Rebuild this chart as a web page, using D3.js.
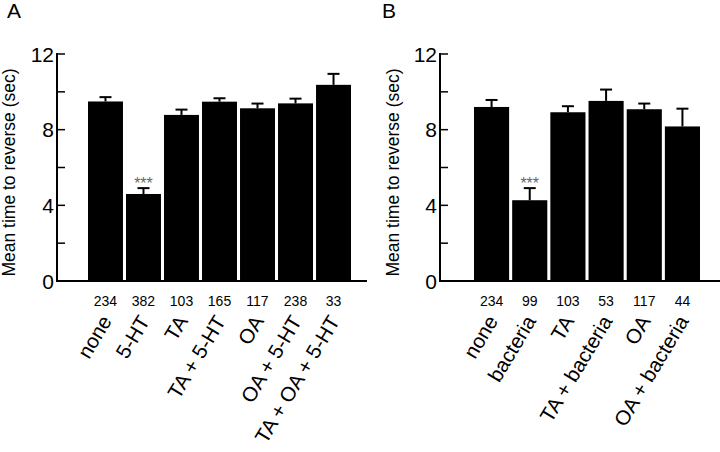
<!DOCTYPE html>
<html><head><meta charset="utf-8">
<script src="https://cdn.jsdelivr.net/npm/d3@7"></script>
<style>body{margin:0;background:#fff}svg{display:block}text{font-family:"Liberation Sans",Arial,sans-serif}</style>
</head><body><svg id="c" width="720" height="452"></svg>
<script>
const catsA = ["none","5-HT","TA","TA + 5-HT","OA","OA + 5-HT","TA + OA + 5-HT"];
const meansA = [9.49, 4.6, 8.78, 9.48, 9.13, 9.39, 10.37];
const semA = [0.23, 0.31, 0.28, 0.18, 0.25, 0.25, 0.58];
const nA = ["234","382","103","165","117","238","33"];
const sigA = ["", "***", "", "", "", "", ""];

const catsB = ["none","bacteria","TA","TA + bacteria","OA","OA + bacteria"];
const meansB = [9.2, 4.27, 8.92, 9.52, 9.08, 8.17];
const semB = [0.37, 0.64, 0.32, 0.6, 0.3, 0.94];
const nB = ["234","99","103","53","117","44"];
const sigB = ["", "***", "", "", "", ""];

const yTicks = [0, 4, 8, 12];
const yMinor = [2, 6, 10];
const yTitle = "Mean time to reverse (sec)";

const svg = d3.select("#c");

function panel(opt){
  const {letter, letterX, axisX, axisEnd, barL, barR, cats, means, sems, ns, sigs, titleX} = opt;
  const g = svg.append("g");
  const y = d3.scaleLinear().domain([0,12]).range([281,54]);
  const x = d3.scaleBand().domain(cats).range([barL,barR]).paddingInner(0.08).paddingOuter(0);
  g.append("text").attr("x",letterX).attr("y",18).attr("font-size",21).text(letter);
  g.selectAll("rect.bar").data(cats).enter().append("rect")
    .attr("x",d=>x(d)).attr("width",x.bandwidth())
    .attr("y",(d,i)=>y(means[i])).attr("height",(d,i)=>y(0)-y(means[i]))
    .attr("fill","#000");
  cats.forEach((c,i)=>{
    const cx = x(c)+x.bandwidth()/2;
    g.append("line").attr("x1",cx).attr("x2",cx).attr("y1",y(means[i])).attr("y2",y(means[i]+sems[i]))
      .attr("stroke","#000").attr("stroke-width",2);
    g.append("line").attr("x1",cx-6).attr("x2",cx+6).attr("y1",y(means[i]+sems[i])).attr("y2",y(means[i]+sems[i]))
      .attr("stroke","#000").attr("stroke-width",2);
    if(sigs[i]) g.append("text").attr("x",cx).attr("y",y(means[i]+sems[i])+1).attr("text-anchor","middle")
      .attr("font-size",16).attr("fill","#666").text(sigs[i]);
    g.append("text").attr("x",cx).attr("y",306).attr("text-anchor","middle").attr("font-size",14).text(ns[i]);
    g.append("text").attr("transform",`translate(${cx+7},${321}) rotate(-59)`).attr("text-anchor","end")
      .attr("font-size",20.5).text(c);
  });
  const ax = g.append("g").attr("transform",`translate(${axisX},0)`);
  ax.append("line").attr("x1",0).attr("x2",0).attr("y1",y(12)-1).attr("y2",y(0)).attr("stroke","#000").attr("stroke-width",2);
  ax.selectAll("line.t").data(yTicks.concat(yMinor)).enter().append("line")
    .attr("x1",0).attr("x2",8).attr("y1",d=>y(d)).attr("y2",d=>y(d)).attr("stroke","#000").attr("stroke-width",1.5);
  ax.selectAll("text.t").data(yTicks).enter().append("text")
    .attr("x",-3).attr("y",d=>y(d)).attr("dy","0.36em").attr("text-anchor","end").attr("font-size",21).text(d=>d);
  g.append("line").attr("x1",axisX-1).attr("x2",axisEnd).attr("y1",y(0)).attr("y2",y(0)).attr("stroke","#000").attr("stroke-width",2);
  g.append("text").attr("transform",`translate(${titleX},${y(6)+5}) rotate(-90)`).attr("text-anchor","middle")
    .attr("font-size",17.5).text(yTitle);
}

panel({letter:"A", letterX:7, axisX:57, axisEnd:367, barL:88, barR:351, cats:catsA, means:meansA, sems:semA, ns:nA, sigs:sigA, titleX:15});
panel({letter:"B", letterX:382, axisX:440, axisEnd:720, barL:474, barR:700, cats:catsB, means:meansB, sems:semB, ns:nB, sigs:sigB, titleX:399});
</script></body></html>
